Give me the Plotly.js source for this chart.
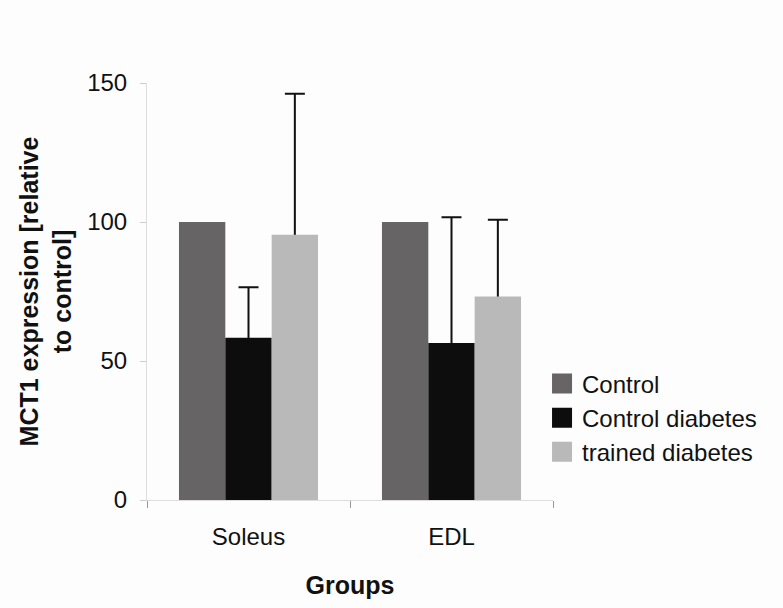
<!DOCTYPE html>
<html>
<head>
<meta charset="utf-8">
<script src="https://cdn.plot.ly/plotly-3.0.1.min.js"></script>
<style>
html,body{margin:0;padding:0;background:#fdfdfd;}
#chart{width:783px;height:608px;}
</style>
</head>
<body>
<div id="chart"></div>
<script>
// ---- data ----
var categories = ["Soleus", "EDL"];
var seriesNames = ["Control", "Control diabetes", "trained diabetes"];
var controlValues = [100, 100];
var controlDiabetesValues = [58.4, 56.5];
var trainedDiabetesValues = [95.4, 73.2];
var controlDiabetesErr = [18.1, 45.2];
var trainedDiabetesErr = [50.7, 27.6];
var yTickValues = [0, 50, 100, 150];

var colors = ["#666464", "#0d0d0d", "#b9b9b9"];
var FONT = "Liberation Sans, Arial, sans-serif";

var values = [controlValues, controlDiabetesValues, trainedDiabetesValues];
var errs = [null, controlDiabetesErr, trainedDiabetesErr];

var traces = [];
// error bar carriers (transparent bars underneath, so the lower cap hides behind visible bars)
for (var i = 0; i < 3; i++) {
  var t = {
    type: "bar", x: categories, y: values[i], name: seriesNames[i],
    xaxis: "x", yaxis: "y",
    marker: {color: "rgba(0,0,0,0)"},
    showlegend: false, hoverinfo: "skip"
  };
  if (errs[i]) {
    t.error_y = {
      type: "data", symmetric: false, array: errs[i],
      arrayminus: errs[i].map(function(){ return 3; }),
      color: "#111111", thickness: 2, width: 10
    };
  }
  traces.push(t);
}
// visible bars on overlay axes
for (var j = 0; j < 3; j++) {
  traces.push({
    type: "bar", x: categories, y: values[j], name: seriesNames[j],
    xaxis: "x2", yaxis: "y2",
    marker: {color: colors[j], line: {width: 0}}
  });
}

var layout = {
  width: 783, height: 608,
  paper_bgcolor: "#fdfdfd", plot_bgcolor: "rgba(0,0,0,0)",
  margin: {l: 147, r: 230, t: 83, b: 108},
  barmode: "group", bargap: 0.315, bargroupgap: 0,
  font: {family: FONT, color: "#111111", size: 24},
  showlegend: true,
  legend: {
    x: 0.973, xanchor: "left", y: 0.197, yanchor: "middle",
    font: {family: FONT, size: 24, color: "#111111"},
    bgcolor: "rgba(0,0,0,0)", traceorder: "normal"
  },
  xaxis: {
    type: "category", tickson: "boundaries", ticks: "outside", ticklen: 7,
    tickcolor: "#999999", tickwidth: 1,
    showline: true, linecolor: "#dddddd", linewidth: 1,
    showgrid: false, zeroline: false,
    tickfont: {family: FONT, size: 24, color: "#111111"},
    ticklabelstandoff: 15,
    title: {text: "<b>Groups</b>", font: {family: FONT, size: 25, color: "#111111"}, standoff: 27}
  },
  yaxis: {
    range: [0, 150], tickvals: yTickValues, ticktext: yTickValues.map(String),
    ticks: "outside", ticklen: 6, tickcolor: "#cccccc",
    showline: true, linecolor: "#dddddd", linewidth: 1,
    showgrid: false, zeroline: false,
    tickfont: {family: FONT, size: 24, color: "#111111"},
    ticklabelstandoff: 8,
    title: {text: "<b>MCT1 expression [relative<br>to control]</b>", font: {family: FONT, size: 25, color: "#111111"}, standoff: 8}
  },
  xaxis2: {type: "category", overlaying: "x", visible: false, matches: "x"},
  yaxis2: {overlaying: "y", visible: false, range: [0, 150]}
};

Plotly.newPlot("chart", traces, layout, {displayModeBar: false, staticPlot: true}).then(function(gd){
  // enlarge the legend swatches to match the reference
  var paths = gd.querySelectorAll(".legend .legendpoints path");
  for (var k = 0; k < paths.length; k++) {
    paths[k].setAttribute("d", "M10,10H-10V-10H10Z");
  }
});
</script>
</body>
</html>
